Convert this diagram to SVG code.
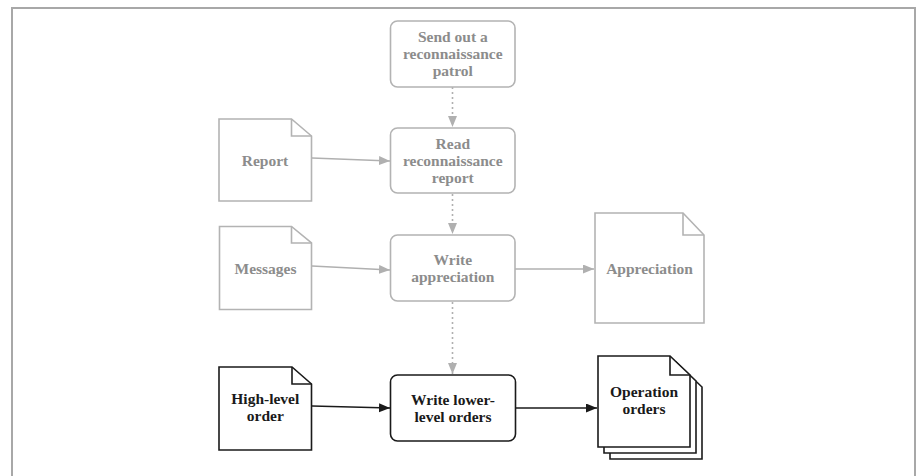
<svg xmlns="http://www.w3.org/2000/svg" width="916" height="476" viewBox="0 0 916 476">
<style>
.t{font-family:"Liberation Serif","Times New Roman",serif;font-weight:bold;font-size:15.5px;text-anchor:middle}
.tg{fill:#8c8c8c}
.tb{fill:#1a1a1a}
.g{fill:#fff;stroke:#b3b3b3;stroke-width:1.6}
.b{fill:#fff;stroke:#1a1a1a;stroke-width:1.6}
.fg{fill:none;stroke:#b3b3b3;stroke-width:1.6}
.fb{fill:none;stroke:#1a1a1a;stroke-width:1.6}
.cg{fill:none;stroke:#b0b0b0;stroke-width:1.6}
.cb{fill:none;stroke:#1a1a1a;stroke-width:1.6}
.dot{stroke-dasharray:2 3}
</style>
<defs>
<marker id="ag" markerUnits="userSpaceOnUse" markerWidth="12" markerHeight="10" refX="11" refY="4.5" orient="auto"><path d="M0,0 L11,4.5 L0,9 Z" fill="#b0b0b0"/></marker>
<marker id="ab" markerUnits="userSpaceOnUse" markerWidth="12" markerHeight="10" refX="11" refY="4.5" orient="auto"><path d="M0,0 L11,4.5 L0,9 Z" fill="#1a1a1a"/></marker>
</defs>
<rect width="916" height="476" fill="#fff"/>
<path d="M12,476 V8 H915 V476" fill="none" stroke="#a8a8a8" stroke-width="2"/>

<g id="connectors">
<path class="cg dot" d="M452.5,87 V127" marker-end="url(#ag)"/>
<path class="cg dot" d="M452.5,194 V234" marker-end="url(#ag)"/>
<path class="cg dot" d="M452.5,302 V374" marker-end="url(#ag)"/>
<path class="cg" d="M312,158 L390,161" marker-end="url(#ag)"/>
<path class="cg" d="M312,266 L390,270" marker-end="url(#ag)"/>
<path class="cg" d="M515,269 H594" marker-end="url(#ag)"/>
<path class="cb" d="M312,406 L390,408" marker-end="url(#ab)"/>
<path class="cb" d="M516,408 H597" marker-end="url(#ab)"/>
</g>

<g id="send-patrol">
<rect class="g" x="390.5" y="21" width="124.5" height="66" rx="7"/>
<text class="t tg" x="452.8"><tspan x="452.8" y="42">Send out a</tspan><tspan x="452.8" y="59">reconnaissance</tspan><tspan x="452.8" y="76">patrol</tspan></text>
</g>

<g id="read-report">
<rect class="g" x="390.5" y="128" width="124.5" height="65" rx="7"/>
<text class="t tg"><tspan x="452.8" y="149">Read</tspan><tspan x="452.8" y="166">reconnaissance</tspan><tspan x="452.8" y="183">report</tspan></text>
</g>

<g id="write-appreciation">
<rect class="g" x="390.5" y="235" width="124.5" height="66" rx="7"/>
<text class="t tg"><tspan x="452.8" y="265">Write</tspan><tspan x="452.8" y="282">appreciation</tspan></text>
</g>

<g id="write-lower-level-orders">
<rect class="b" x="390.5" y="375" width="125" height="66" rx="7"/>
<text class="t tb"><tspan x="453" y="405">Write lower-</tspan><tspan x="453" y="422">level orders</tspan></text>
</g>

<g id="report">
<path class="g" d="M219,119 H291.5 L311.5,136 V201 H219 Z"/>
<path class="fg" d="M291.5,119 V136 H311.5"/>
<text class="t tg" x="265" y="166">Report</text>
</g>

<g id="messages">
<path class="g" d="M219.5,226.5 H291.5 L311.5,243 V309.5 H219.5 Z"/>
<path class="fg" d="M291.5,226.5 V243 H311.5"/>
<text class="t tg" x="265.5" y="274">Messages</text>
</g>

<g id="appreciation">
<path class="g" d="M595,213 H683 L704,235 V323 H595 Z"/>
<path class="fg" d="M683,213 V235 H704"/>
<text class="t tg" x="649.5" y="273.5">Appreciation</text>
</g>

<g id="high-level-order">
<path class="b" d="M219,367 H292 L311.5,384 V450 H219 Z"/>
<path class="fb" d="M292,367 V384 H311.5"/>
<text class="t tb"><tspan x="265.3" y="404">High-level</tspan><tspan x="265.3" y="421">order</tspan></text>
</g>

<g id="operation-orders">
<path class="b" d="M610,368 H682 L702,387 V459 H610 Z"/>
<path class="b" d="M604,362 H676 L696,381 V453 H604 Z"/>
<path class="b" d="M598,356 H670 L690,375 V447 H598 Z"/>
<path class="fb" d="M670,356 V375 H690"/>
<text class="t tb"><tspan x="644" y="397">Operation</tspan><tspan x="644" y="414">orders</tspan></text>
</g>
</svg>
